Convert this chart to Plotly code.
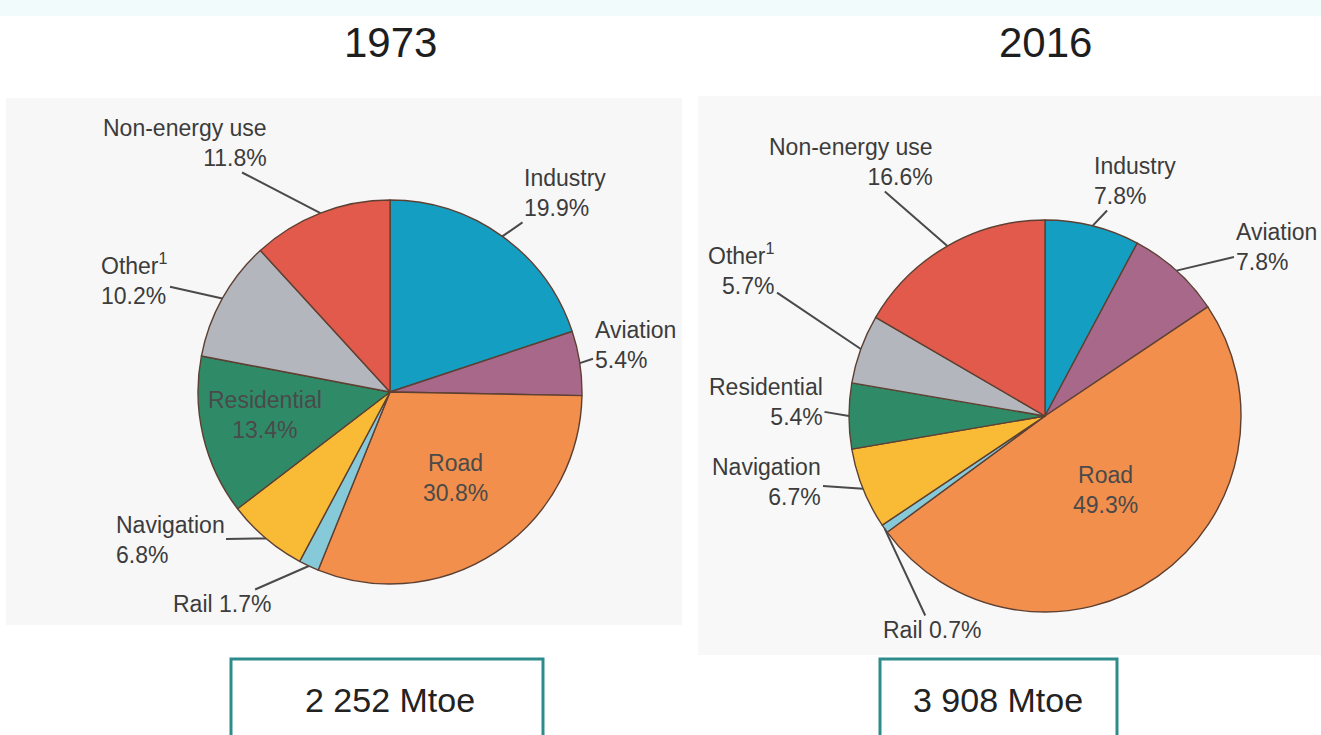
import numpy as np
import plotly.graph_objects as go

# data ------------------------------------------------------------------------
sectors = ["Industry", "Aviation", "Road", "Rail", "Navigation",
           "Residential", "Other", "Non-energy use"]
share_1973 = [19.9, 5.4, 30.8, 1.7, 6.8, 13.4, 10.2, 11.8]
share_2016 = [7.8, 7.8, 49.3, 0.7, 6.7, 5.4, 5.7, 16.6]
years = ["1973", "2016"]
totals = ["2 252 Mtoe", "3 908 Mtoe"]

COLORS = ["#149fc2", "#a7688a", "#f28f4c", "#86c9d9", "#f9bb35",
          "#2f8a68", "#b3b6bd", "#e15a4b"]

W, H = 1321, 735
TXTCOL = "#3c3c3c"
FONT = "Liberation Sans, Arial"

# layout (pixel positions) -----------------------------------------------------
PIES = [dict(cx=390, cy=392, r=192), dict(cx=1045, cy=416, r=196)]

# label placement: (text centre x, y, align, leader line?)
LABELPOS = [
    {"Industry": (565, 193, "left", True), "Aviation": (635, 345, "left", True),
     "Road": (455, 478, "center", False), "Rail": (222, 604, "left", True),
     "Navigation": (170, 540, "left", True), "Residential": (265, 415, "center", False),
     "Other": (135, 279, "left", True), "Non-energy use": (185, 143, "right", True)},
    {"Industry": (1135, 181, "left", True), "Aviation": (1276, 247, "left", True),
     "Road": (1105, 490, "center", False), "Rail": (932, 630, "left", True),
     "Navigation": (767, 482, "right", True), "Residential": (766, 402, "right", True),
     "Other": (742, 269, "right", True), "Non-energy use": (851, 162, "right", True)},
]
BOXES = [dict(x0=231, x1=543, cx=390), dict(x0=880, x1=1117, cx=998)]


def px(x):
    return x / W


def py(y):
    return 1 - y / H


def label_text(name, val):
    if name == "Rail":
        return f"Rail {val:.1f}%"
    if name == "Other":
        return f"Other<sup>1</sup><br>{val:.1f}%"
    return f"{name}<br>{val:.1f}%"


fig = go.Figure()

# background panels
fig.add_shape(type="rect", xref="paper", yref="paper", x0=0, x1=1, y0=py(16), y1=1,
              fillcolor="#f2fbfb", line=dict(width=0), layer="below")
fig.add_shape(type="rect", xref="paper", yref="paper", x0=px(6), x1=px(682), y0=py(625), y1=py(98),
              fillcolor="#f7f7f7", line=dict(width=0), layer="below")
fig.add_shape(type="rect", xref="paper", yref="paper", x0=px(698), x1=1, y0=py(655), y1=py(96),
              fillcolor="#f8f8f8", line=dict(width=0), layer="below")

for k, vals in enumerate([share_1973, share_2016]):
    p = PIES[k]
    fig.add_trace(go.Pie(
        labels=sectors, values=vals, sort=False, direction="clockwise", rotation=0,
        marker=dict(colors=COLORS, line=dict(color="#5e4033", width=1.4)),
        textinfo="none", hoverinfo="label+percent",
        domain=dict(x=[px(p["cx"] - p["r"]), px(p["cx"] + p["r"])],
                    y=[py(p["cy"] + p["r"]), py(p["cy"] - p["r"])]),
    ))

    # labels + leader lines, anchored at slice mid-angle
    cum = np.cumsum(vals) - np.array(vals) / 2
    for name, v, c in zip(sectors, vals, cum):
        ang = np.deg2rad(c / sum(vals) * 360)
        ex = p["cx"] + p["r"] * np.sin(ang)
        ey = p["cy"] - p["r"] * np.cos(ang)
        tx, ty, al, lead = LABELPOS[k][name]
        if lead:
            fig.add_annotation(
                x=px(ex), y=py(ey), xref="paper", yref="paper",
                ax=tx - ex, ay=ty - ey, text=label_text(name, v), align=al,
                showarrow=True, arrowhead=0, arrowwidth=2, arrowcolor="#4a4a4a",
                font=dict(family=FONT, size=23, color=TXTCOL))
        else:
            fig.add_annotation(
                x=px(tx), y=py(ty), xref="paper", yref="paper", showarrow=False,
                xanchor="center", yanchor="middle",
                text=label_text(name, v), align=al,
                font=dict(family=FONT, size=23, color="#4a4a4a"))

    # year titles
    fig.add_annotation(x=px(p["cx"]), y=py(42), xref="paper", yref="paper", showarrow=False,
                       xanchor="center", yanchor="middle",
                       text=years[k], font=dict(family=FONT, size=42, color="#1e1e1e"))

    # total boxes
    b = BOXES[k]
    fig.add_shape(type="rect", xref="paper", yref="paper", x0=px(b["x0"]), x1=px(b["x1"]),
                  y0=py(745), y1=py(659), line=dict(color="#2e8b8b", width=3), fillcolor="white")
    fig.add_annotation(x=px(b["cx"]), y=py(700), xref="paper", yref="paper", showarrow=False,
                       xanchor="center", yanchor="middle",
                       text=totals[k], font=dict(family=FONT, size=34, color="#222222"))

fig.update_layout(
    width=W, height=H,
    margin=dict(l=0, r=0, t=0, b=0),
    paper_bgcolor="white", plot_bgcolor="white",
    showlegend=False,
)

fig.write_html("out.html", config={"displayModeBar": False},
               post_script="document.body.style.margin='0';")
